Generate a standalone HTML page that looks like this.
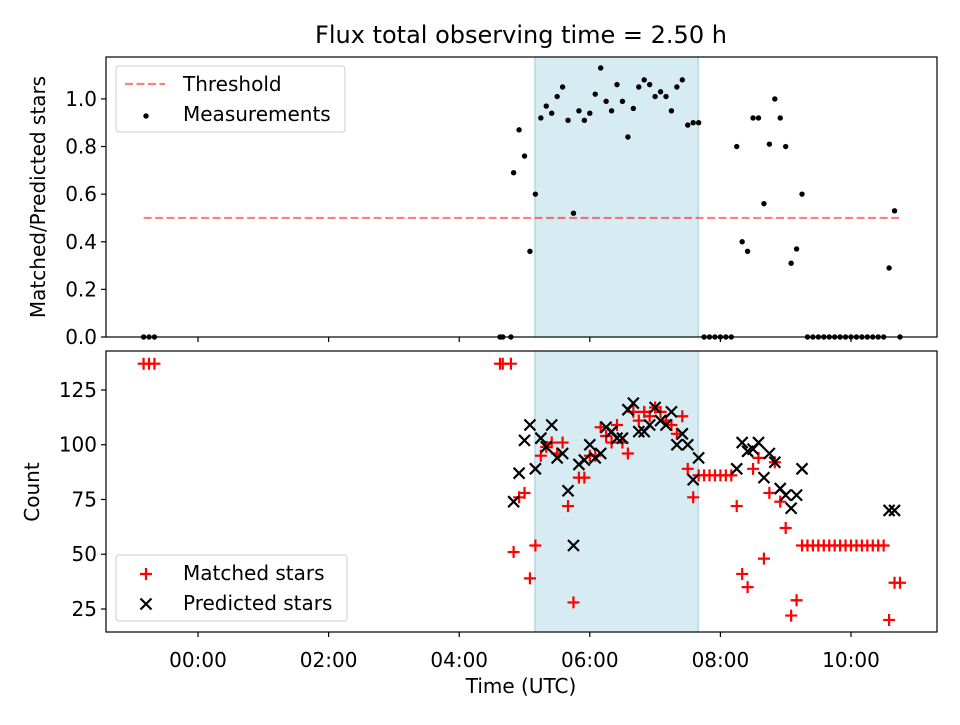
<!DOCTYPE html>
<html><head><meta charset="utf-8"><style>
body{margin:0;background:#fff;font-family:"Liberation Sans","DejaVu Sans",sans-serif}
svg text{font-family:"DejaVu Sans","Liberation Sans",sans-serif;fill:#000}
</style></head><body>
<svg id="c" width="960" height="720" xmlns="http://www.w3.org/2000/svg"></svg>
<script>
// times in units of 5 minutes after 00:00 UTC
const measK=[-10,-9,-8,55.5,56,57.5,58,59,60,61,62,63,64,65,66,67,68,69,70,71,72,73,74,75,76,77,78,79,80,81,82,83,84,85,86,87,88,89,90,91,92,93,94,95,96,97,98,99,100,101,102,103,104,105,106,107,108,109,110,111,112,113,114,115,116,117,118,119,120,121,122,123,124,125,126,127,128,129];
const measV=[0,0,0,0,0,0,0.69,0.87,0.76,0.36,0.60,0.92,0.97,0.94,1.01,1.05,0.91,0.52,0.95,0.91,0.94,1.02,1.13,0.99,0.95,1.06,0.99,0.84,0.96,1.05,1.08,1.06,1.01,1.03,1.01,0.95,1.05,1.08,0.89,0.90,0.90,0,0,0,0,0,0,0.80,0.40,0.36,0.92,0.92,0.56,0.81,1.00,0.92,0.80,0.31,0.37,0.60,0,0,0,0,0,0,0,0,0,0,0,0,0,0,0,0.29,0.53,0];
const matchK=[-10,-9,-8,55.5,56,57.5,58,59,60,61,62,63,64,65,66,67,68,69,70,71,72,73,74,75,76,77,78,79,80,81,82,83,84,85,86,87,88,89,90,91,92,93,94,95,96,97,98,99,100,101,102,103,104,105,106,107,108,109,110,111,112,113,114,115,116,117,118,119,120,121,122,123,124,125,126,127,128,129];
const matchV=[137,137,137,137,137,137,51,76,78,39,54,95,99,101,96,101,72,28,85,85,95,95,108,104,101,109,101,96,115,111,115,113,117,115,111,109,105,113,89,76,86,86,86,86,86,86,86,72,41,35,89,94,48,78,92,74,62,22,29,54,54,54,54,54,54,54,54,54,54,54,54,54,54,54,54,20,37,37];
const predK=[58,59,60,61,62,63,64,65,66,67,68,69,70,71,72,73,74,75,76,77,78,79,80,81,82,83,84,85,86,87,88,89,90,91,92,99,100,101,102,103,104,105,106,107,108,109,110,111,127,128];
const predV=[74,87,102,109,89,103,99,109,94,96,79,54,91,93,100,94,96,108,106,103,103,116,119,106,106,109,117,111,109,115,100,105,100,84,94,89,101,97,98,101,85,96,92,80,77,71,77,89,70,70];
const xTickH=[0,2,4,6,8,10];
const xTickLabels=["00:00","02:00","04:00","06:00","08:00","10:00"];
const yTopTicks=[0,0.2,0.4,0.6,0.8,1.0];
const yBotTicks=[25,50,75,100,125];
const threshold=0.5, thrStartK=-10, thrEndK=129;
const spanStartH=5.16, spanEndH=7.66;

const svg=document.getElementById('c');const NS='http://www.w3.org/2000/svg';
function el(t,a,p){const e=document.createElementNS(NS,t);for(const k in a)e.setAttribute(k,a[k]);(p||svg).appendChild(e);return e;}
const L=106,R=937,T1=57,B1=337,T2=351,B2=632;
const FS=20;
const xH=h=>L+(h+1.409)/(12.726)*(R-L);
const xK=k=>xH(k*5/60);
const yTop=v=>B1-v/1.176*(B1-T1);
const yBot=v=>B2-(v-14.5)/128.3*(B2-T2);

let s=el('rect',{x:xH(spanStartH),y:T1,width:xH(spanEndH)-xH(spanStartH),height:B1-T1,fill:'#add8e6','fill-opacity':0.5,stroke:'#9ccbd8'});

s=el('rect',{x:xH(spanStartH),y:T2,width:xH(spanEndH)-xH(spanStartH),height:B2-T2,fill:'#add8e6','fill-opacity':0.5,stroke:'#9ccbd8'});


let th=el('line',{x1:xK(thrStartK),x2:xK(thrEndK),y1:yTop(threshold),y2:yTop(threshold),stroke:'#ff0000','stroke-opacity':0.5,'stroke-width':2.2,'stroke-dasharray':'8,3.5'});


measK.forEach((k,i)=>{const c=el('circle',{cx:xK(k),cy:yTop(measV[i]),r:2.7,fill:'#000'});
});

matchK.forEach((k,i)=>{const x=xK(k),y=yBot(matchV[i]);const g=el('path',{d:`M${x-6},${y}H${x+6}M${x},${y-6}V${y+6}`,stroke:'#ff0000','stroke-width':2.2});
});
predK.forEach((k,i)=>{const x=xK(k),y=yBot(predV[i]);const g=el('path',{d:`M${x-5.5},${y-5.5}L${x+5.5},${y+5.5}M${x-5.5},${y+5.5}L${x+5.5},${y-5.5}`,stroke:'#000','stroke-width':2.2});
});

el('rect',{x:L,y:T1,width:R-L,height:B1-T1,fill:'none',stroke:'#000','stroke-width':1.2});
el('rect',{x:L,y:T2,width:R-L,height:B2-T2,fill:'none',stroke:'#000','stroke-width':1.2});

xTickH.forEach((h,i)=>{const x=xH(h);
el('line',{x1:x,x2:x,y1:B1,y2:B1+5,stroke:'#000','stroke-width':1.2});
el('line',{x1:x,x2:x,y1:B2,y2:B2+5,stroke:'#000','stroke-width':1.2});
const t=el('text',{x:x,y:B2+35,'text-anchor':'middle','font-size':FS});t.textContent=xTickLabels[i];
});
yTopTicks.forEach(v=>{const y=yTop(v);el('line',{x1:L-5,x2:L,y1:y,y2:y,stroke:'#000','stroke-width':1.2});
const t=el('text',{x:L-9,y:y+7,'text-anchor':'end','font-size':FS});t.textContent=v.toFixed(1);
});
yBotTicks.forEach(v=>{const y=yBot(v);el('line',{x1:L-5,x2:L,y1:y,y2:y,stroke:'#000','stroke-width':1.2});
const t=el('text',{x:L-9,y:y+7,'text-anchor':'end','font-size':FS});t.textContent=v;
});

function txt(x,y,s,a,name,extra){const t=el('text',Object.assign({x:x,y:y,'font-size':FS,'text-anchor':a},extra||{}));t.textContent=s;return t;}
txt(521,43,'Flux total observing time = 2.50 h','middle','chart-title',{'font-size':24});
txt(521,693,'Time (UTC)','middle','x-axis-title');
txt(0,0,'Matched/Predicted stars','middle','y-axis-title-top',{transform:'translate(45,197) rotate(-90)'});
txt(0,0,'Count','middle','y-axis-title-bottom',{transform:'translate(39,492) rotate(-90)'});

let lg=el('rect',{x:116,y:66,width:229,height:66,rx:3,fill:'#fff','fill-opacity':0.8,stroke:'#ccc'});
el('line',{x1:125,x2:165,y1:84,y2:84,stroke:'#ff0000','stroke-opacity':0.5,'stroke-width':2.2,'stroke-dasharray':'8,3.5'});
txt(183,91,'Threshold','start','legend-threshold');
el('circle',{cx:146,cy:116,r:2.7,fill:'#000'});
txt(183,121,'Measurements','start','legend-measurements');
lg=el('rect',{x:116,y:555,width:231,height:66,rx:3,fill:'#fff','fill-opacity':0.8,stroke:'#ccc'});
el('path',{d:'M140,574H152M146,568V580',stroke:'#ff0000','stroke-width':2.2});
txt(183,580,'Matched stars','start','legend-matched');
el('path',{d:'M140.5,598.5L151.5,609.5M140.5,609.5L151.5,598.5',stroke:'#000','stroke-width':2.2});
txt(183,610,'Predicted stars','start','legend-predicted');
</script>
</body></html>
